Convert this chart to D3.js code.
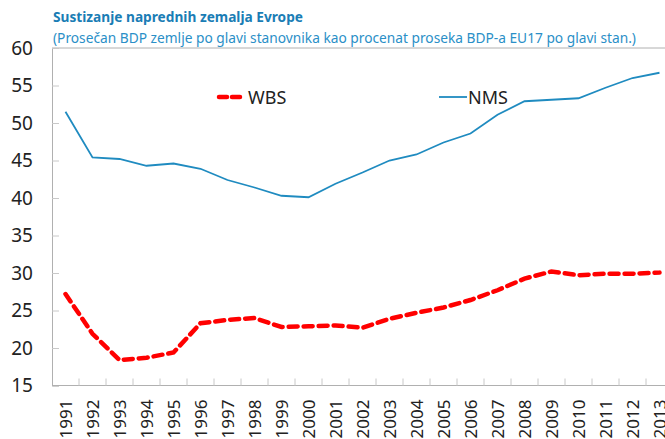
<!DOCTYPE html>
<html>
<head>
<meta charset="utf-8">
<script src="https://cdn.jsdelivr.net/npm/d3@7"></script>
<style>
  body { margin: 0; background: #fff; }
  svg { display: block; font-family: "Noto Sans", "Open Sans", sans-serif; }
</style>
</head>
<body>
<div id="chart"></div>
<script>
// data
const years = ["1991","1992","1993","1994","1995","1996","1997","1998","1999","2000","2001","2002",
               "2003","2004","2005","2006","2007","2008","2009","2010","2011","2012","2013"];
const wbs = [27.2, 21.9, 18.4, 18.7, 19.4, 23.3, 23.75, 24.0, 22.8, 22.9, 23.0, 22.7,
             23.9, 24.7, 25.4, 26.4, 27.7, 29.25, 30.2, 29.7, 29.9, 29.9, 30.05];
const nms = [51.5, 45.4, 45.2, 44.3, 44.6, 43.9, 42.4, 41.4, 40.3, 40.1, 41.9, 43.4,
             45.0, 45.8, 47.4, 48.6, 51.1, 52.9, 53.1, 53.3, 54.7, 56.0, 56.7];
const yTicks = [15, 20, 25, 30, 35, 40, 45, 50, 55, 60];

const W = 665, H = 439;
const margin = {top: 48, left: 52};
const plotW = 621, plotH = 337.5;

const svg = d3.select("#chart").append("svg")
    .attr("width", W)
    .attr("height", H);

// title + subtitle
svg.append("text")
    .attr("x", 53).attr("y", 22)
    .attr("fill", "#1a7db5")
    .attr("font-weight", "bold")
    .attr("font-size", 14)
    .attr("textLength", 250)
    .attr("lengthAdjust", "spacingAndGlyphs")
    .text("Sustizanje naprednih zemalja  Evrope");

svg.append("text")
    .attr("x", 53).attr("y", 43)
    .attr("fill", "#2a8fc7")
    .attr("font-size", 14)
    .attr("textLength", 583)
    .attr("lengthAdjust", "spacingAndGlyphs")
    .text("(Prosečan BDP zemlje po glavi stanovnika kao procenat proseka BDP-a EU17 po glavi stan.)");

const g = svg.append("g")
    .attr("transform", `translate(${margin.left},${margin.top})`);

// scales
const x = d3.scaleBand().domain(years).range([0, plotW]);
const y = d3.scaleLinear().domain([15, 60]).range([plotH, 0]);

// frame: top line
g.append("line")
    .attr("x1", 0).attr("x2", plotW)
    .attr("y1", 0).attr("y2", 0)
    .attr("stroke", "#b0b0b0");

// y axis
const yAxis = g.append("g")
    .call(d3.axisLeft(y).tickValues(yTicks).tickSize(-7).tickPadding(19));
yAxis.select(".domain").attr("stroke", "#b0b0b0");
yAxis.selectAll(".tick line").attr("stroke", "#c8c8c8");
yAxis.selectAll(".tick text")
    .attr("font-size", 19)
    .attr("fill", "#222")
    .attr("font-family", "Noto Sans, sans-serif");

// x axis (ticks at category boundaries)
const xAxis = g.append("g")
    .attr("transform", `translate(0,${plotH})`);
xAxis.append("line")
    .attr("x1", 0).attr("x2", plotW)
    .attr("stroke", "#b0b0b0");
xAxis.selectAll(".bound")
    .data(years)
    .enter().append("line")
    .attr("class", "bound")
    .attr("x1", d => x(d) + x.bandwidth())
    .attr("x2", d => x(d) + x.bandwidth())
    .attr("y1", 0).attr("y2", -7)
    .attr("stroke", "#c8c8c8");
xAxis.selectAll(".xlab")
    .data(years)
    .enter().append("text")
    .attr("class", "xlab")
    .attr("transform", d => `translate(${x(d) + x.bandwidth() / 2 + 6},14) rotate(-90)`)
    .attr("text-anchor", "end")
    .attr("font-size", 17)
    .attr("fill", "#222")
    .text(d => d);

// lines
const line = d3.line()
    .x((d, i) => x(years[i]) + x.bandwidth() / 2)
    .y(d => y(d));

g.append("path")
    .datum(nms)
    .attr("d", line)
    .attr("fill", "none")
    .attr("stroke", "#1f8bc0")
    .attr("stroke-width", 1.8);

g.append("path")
    .datum(wbs)
    .attr("d", line)
    .attr("fill", "none")
    .attr("stroke", "#ff0000")
    .attr("stroke-width", 4.5)
    .attr("stroke-dasharray", "9,6")
    .attr("stroke-linecap", "round");

// legend
const legend = svg.append("g");
legend.append("line")
    .attr("x1", 219).attr("x2", 243).attr("y1", 97).attr("y2", 97)
    .attr("stroke", "#ff0000").attr("stroke-width", 4.5)
    .attr("stroke-dasharray", "8,5").attr("stroke-linecap", "round");
legend.append("text")
    .attr("x", 248).attr("y", 104)
    .attr("font-size", 18).attr("fill", "#222")
    .text("WBS");
legend.append("line")
    .attr("x1", 439).attr("x2", 467).attr("y1", 97).attr("y2", 97)
    .attr("stroke", "#1f8bc0").attr("stroke-width", 1.8);
legend.append("text")
    .attr("x", 468).attr("y", 104)
    .attr("font-size", 18).attr("fill", "#222")
    .text("NMS");
</script>
</body>
</html>
